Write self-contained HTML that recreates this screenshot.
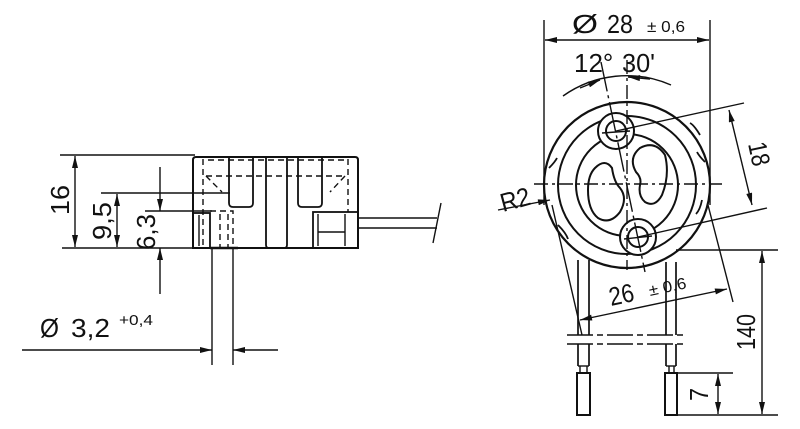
<!DOCTYPE html>
<html><head><meta charset="utf-8"><style>
html,body{margin:0;padding:0;background:#fff;}
svg{display:block}
text{font-family:"Liberation Sans",sans-serif;fill:#111;}
</style></head><body>
<svg width="800" height="429" viewBox="0 0 800 429" xmlns="http://www.w3.org/2000/svg">
<defs>
<marker id="a" viewBox="0 0 12 6" refX="12" refY="3" markerWidth="13" markerHeight="6" markerUnits="userSpaceOnUse" orient="auto-start-reverse"><path d="M0,0 L12,3 L0,6z" fill="#111"/></marker>
</defs>
<g stroke="#111" fill="none" stroke-width="1.4">
<line x1="60" y1="155" x2="195" y2="155"/>
<line x1="62" y1="248" x2="195" y2="248"/>
<line x1="75" y1="156" x2="75" y2="247" marker-start="url(#a)" marker-end="url(#a)"/>
<line x1="101" y1="193" x2="230" y2="193"/>
<line x1="117" y1="194" x2="117" y2="247" marker-start="url(#a)" marker-end="url(#a)"/>
<line x1="145" y1="211" x2="212" y2="211"/>
<line x1="160" y1="167" x2="160" y2="211" marker-end="url(#a)"/>
<line x1="160" y1="294" x2="160" y2="248" marker-end="url(#a)"/>
<line x1="212" y1="248" x2="212" y2="365"/>
<line x1="233" y1="248" x2="233" y2="365"/>
<line x1="22" y1="350" x2="212" y2="350" marker-end="url(#a)"/>
<line x1="278" y1="350" x2="233" y2="350" marker-end="url(#a)"/>
<path d="M196,157 H355 Q358,157 358,160 V248 H193 V160 Q193,157 196,157z" stroke-width="2"/>
<path d="M229,157 V203 Q229,207 233,207 H249 Q253,207 253,203 V157" stroke-width="1.8"/>
<path d="M298,157 V203 Q298,207 302,207 H318 Q322,207 322,203 V157" stroke-width="1.8"/>
<path d="M266,157 V245 Q266,248 269,248 H284 Q287,248 287,245 V157" stroke-width="1.8"/>
<rect x="193" y="213" width="17" height="35" stroke-width="1.8"/>
<line x1="199" y1="215" x2="199" y2="246"/>
<rect x="313" y="212" width="45" height="36" stroke-width="1.8"/>
<line x1="318" y1="214" x2="318" y2="246"/>
<line x1="345" y1="214" x2="345" y2="246"/>
<line x1="318" y1="232" x2="345" y2="232"/>
<line x1="358" y1="218" x2="437" y2="218"/>
<line x1="358" y1="228" x2="437" y2="228"/>
<line x1="441" y1="203" x2="433" y2="243"/>
<line x1="210" y1="248" x2="238" y2="248" stroke-width="2.4"/>
<g stroke-dasharray="6,4">
<path d="M203,159 V247"/><path d="M348,159 V212"/>
<path d="M208,160 H345"/><path d="M206,176 H345"/>
<path d="M206,176 L222,192"/><path d="M345,176 L330,192"/>
<path d="M220,214 V247"/><path d="M228,214 V247"/>
<path d="M210,211 H233 V247"/>
</g>
<line x1="544" y1="20" x2="544" y2="205"/>
<line x1="710" y1="20" x2="710" y2="205"/>
<line x1="545" y1="40" x2="709" y2="40" marker-start="url(#a)" marker-end="url(#a)"/>
<circle cx="627" cy="185" r="83" stroke-width="2.2"/>
<circle cx="627" cy="185" r="69" stroke-width="2"/>
<circle cx="627" cy="185" r="51" stroke-width="2"/>
<circle cx="616" cy="131" r="18" stroke-width="2" fill="#fff"/>
<circle cx="616" cy="131" r="10" stroke-width="2"/>
<circle cx="638" cy="237" r="18" stroke-width="2" fill="#fff"/>
<circle cx="638" cy="237" r="10" stroke-width="2"/>
<path d="M549,168 q6,-6 8,-10" stroke-width="1.8"/>
<path d="M705,162 q-6,-6 -8,-10" stroke-width="1.8"/>
<path d="M558,225 q8,8 10,14" stroke-width="1.8"/>
<path d="M700,135 q-6,-10 -10,-12" stroke-width="1.8"/>
<path d="M702,200 q-2,10 -6,14" stroke-width="1.8"/>
<path d="M595,168 Q605,158 612,168 Q614,182 620,188 Q628,198 620,212 Q610,225 598,218 Q588,210 588,190 Q588,175 595,168z" stroke-width="2"/>
<path d="M640,148 Q655,140 665,155 Q670,175 662,195 Q655,208 645,202 Q638,196 640,185 Q642,178 636,172 Q628,158 640,148z" stroke-width="2"/>
<line x1="534" y1="184" x2="722" y2="184" stroke-dasharray="14,4,3,4"/>
<line x1="627" y1="60" x2="627" y2="270" stroke-dasharray="14,4,3,4"/>
<line x1="601" y1="62" x2="645" y2="272" stroke-dasharray="30,4,3,4"/>
<line x1="602" y1="133" x2="630" y2="131"/>
<line x1="624" y1="239" x2="652" y2="236"/>
<path d="M563,96 A110,110 0 0 1 671,85"/>
<line x1="580" y1="88" x2="600" y2="80" marker-end="url(#a)"/>
<line x1="650" y1="79" x2="628" y2="77" marker-end="url(#a)"/>
<line x1="616" y1="131" x2="744" y2="103"/>
<line x1="638" y1="237" x2="767" y2="208"/>
<line x1="729" y1="110" x2="752" y2="205" marker-start="url(#a)" marker-end="url(#a)"/>
<line x1="498" y1="210" x2="550" y2="200" marker-end="url(#a)"/>
<line x1="552" y1="205" x2="582" y2="335"/>
<line x1="708" y1="205" x2="733" y2="302"/>
<line x1="580" y1="320" x2="727" y2="289" marker-start="url(#a)" marker-end="url(#a)"/>
<path d="M578,260 V335 M589,260 V335 M666,262 V335 M676,262 V335" stroke-width="1.7"/>
<path d="M578,344 V366 M589,344 V366 M666,344 V366 M676,344 V366" stroke-width="1.7"/>
<line x1="567" y1="335" x2="687" y2="335" stroke-dasharray="26,4,6,4"/>
<line x1="567" y1="344" x2="687" y2="344" stroke-dasharray="26,4,6,4"/>
<rect x="577" y="373" width="13" height="42" stroke-width="2"/>
<rect x="665" y="373" width="12" height="42" stroke-width="2"/>
<path d="M580,366 V373 M587,366 V373 M669,366 V373 M674,366 V373"/>
<line x1="578" y1="366" x2="589" y2="366"/><line x1="666" y1="366" x2="676" y2="366"/>
<line x1="677" y1="373" x2="733" y2="373"/>
<line x1="677" y1="415" x2="778" y2="415"/>
<line x1="718" y1="374" x2="718" y2="414" marker-start="url(#a)" marker-end="url(#a)"/>
<line x1="676" y1="250" x2="778" y2="250"/>
<line x1="762" y1="251" x2="762" y2="414" marker-start="url(#a)" marker-end="url(#a)"/>
</g>
<g font-size="26">
<text transform="translate(69,215) rotate(-90)" textLength="30" lengthAdjust="spacingAndGlyphs">16</text>
<text transform="translate(111,240) rotate(-90)" textLength="38" lengthAdjust="spacingAndGlyphs">9,5</text>
<text transform="translate(155,250) rotate(-90)" textLength="36" lengthAdjust="spacingAndGlyphs">6,3</text>
<text x="40" y="337" textLength="19" lengthAdjust="spacingAndGlyphs">Ø</text>
<text x="71" y="337" textLength="39" lengthAdjust="spacingAndGlyphs">3,2</text>
<text x="119" y="325" font-size="15" textLength="34" lengthAdjust="spacingAndGlyphs">+0,4</text>
<text x="572" y="33" textLength="26" lengthAdjust="spacingAndGlyphs">Ø</text>
<text x="607" y="33" textLength="26" lengthAdjust="spacingAndGlyphs">28</text>
<text x="647" y="32" font-size="16" textLength="38" lengthAdjust="spacingAndGlyphs">± 0,6</text>
<text x="574" y="72">12°</text>
<text x="622" y="72" textLength="33" lengthAdjust="spacingAndGlyphs">30'</text>
<text transform="translate(748,144) rotate(78)" textLength="24" lengthAdjust="spacingAndGlyphs">18</text>
<text transform="translate(503,212) rotate(-15)" textLength="30" lengthAdjust="spacingAndGlyphs">R2</text>
<text transform="translate(611,306) rotate(-12)" textLength="25" lengthAdjust="spacingAndGlyphs">26</text>
<text transform="translate(650,296) rotate(-12)" font-size="16" textLength="38" lengthAdjust="spacingAndGlyphs">± 0,6</text>
<text transform="translate(755,350) rotate(-90)" textLength="36" lengthAdjust="spacingAndGlyphs">140</text>
<text transform="translate(708,401) rotate(-90)" textLength="13" lengthAdjust="spacingAndGlyphs">7</text>
</g>
</svg>
</body></html>
